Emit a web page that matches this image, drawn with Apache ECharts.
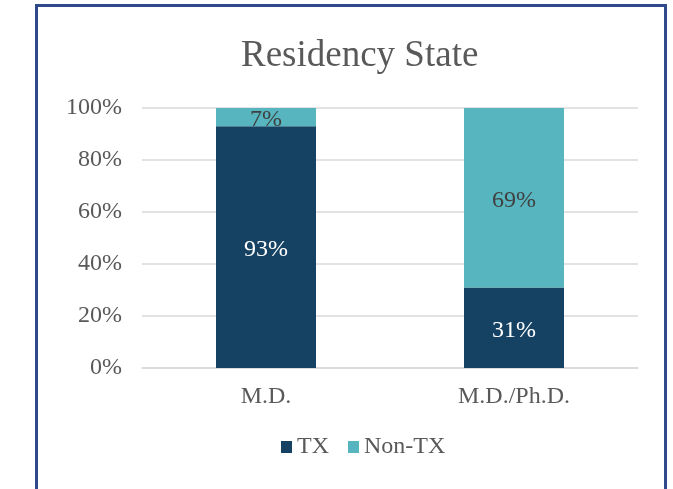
<html>
<head>
    <meta charset="utf-8">
    <script src="https://cdn.jsdelivr.net/npm/echarts@6/dist/echarts.min.js"></script>
    <style>
        body { margin: 0; background: #fff; }
        #main { position: absolute; left: 0; top: 0; width: 673px; height: 489px; }
        #frame { position: absolute; left: 35px; top: 4px; width: 632px; height: 500px;
                 border: 3px solid #2f4a8c; box-sizing: border-box; pointer-events: none; }
    </style>
</head>
<body>
    <div id="main"></div>
    <div id="frame"></div>
    <script>
        var categories = ['M.D.', 'M.D./Ph.D.'];
        var txValues = [93, 31];
        var nonTxValues = [7, 69];
        var yTicks = [0, 20, 40, 60, 80, 100];

        var chart = echarts.init(document.getElementById('main'));
        var font = '"Liberation Serif", "Times New Roman", serif';

        var option = {
            animation: false,
            title: {
                text: 'Residency State',
                left: 236,
                top: 33,
                textStyle: { fontFamily: font, fontSize: 37, fontWeight: 'normal', color: '#595959' }
            },
            legend: {
                left: 276,
                top: 430,
                itemWidth: 11,
                itemHeight: 12,
                itemGap: 19,
                icon: 'rect',
                textStyle: { fontFamily: font, fontSize: 24, color: '#595959' },
                data: ['TX', 'Non-TX']
            },
            grid: { left: 142, right: 35, top: 108, bottom: 121, containLabel: false },
            xAxis: {
                type: 'category',
                data: categories,
                axisLine: { lineStyle: { color: '#d9d9d9', width: 1.5 } },
                axisTick: { show: false },
                axisLabel: { fontFamily: font, fontSize: 24, color: '#595959', margin: 17 }
            },
            yAxis: {
                type: 'value',
                min: yTicks[0],
                max: yTicks[yTicks.length - 1],
                interval: 20,
                axisLine: { show: false },
                axisTick: { show: false },
                splitLine: { lineStyle: { color: '#d9d9d9', width: 1.5 } },
                axisLabel: { fontFamily: font, fontSize: 24, color: '#595959', margin: 20,
                             formatter: function (v) { return v + '%'; } }
            },
            series: [{
                name: 'TX',
                type: 'bar',
                stack: 'total',
                barWidth: 100,
                data: txValues,
                itemStyle: { color: '#154163' },
                label: { show: true, position: 'inside', offset: [0, 3], fontFamily: font, fontSize: 24,
                         color: '#ffffff', formatter: '{c}%' }
            }, {
                name: 'Non-TX',
                type: 'bar',
                stack: 'total',
                barWidth: 100,
                data: nonTxValues,
                itemStyle: { color: '#57b5bf' },
                label: { show: true, position: 'inside', offset: [0, 3], fontFamily: font, fontSize: 24,
                         color: '#404040', formatter: '{c}%' }
            }]
        };

        chart.setOption(option);
    </script>
</body>
</html>
